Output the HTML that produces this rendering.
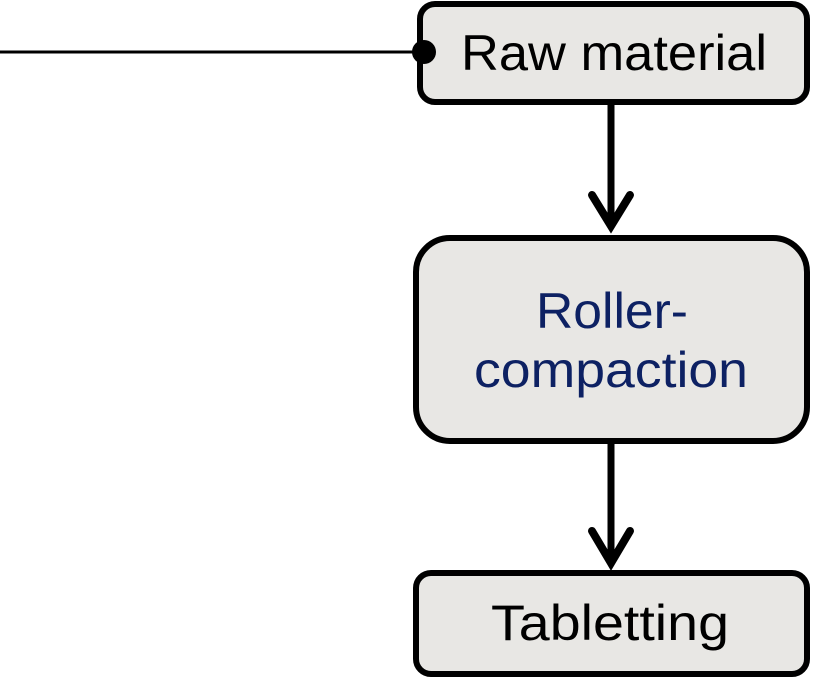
<!DOCTYPE html>
<html><head><meta charset="utf-8"><style>
html,body{margin:0;padding:0;background:#fff;}
svg{display:block;}
text{font-family:"Liberation Sans","DejaVu Sans",sans-serif;font-size:50px;}
</style></head><body>
<svg width="814" height="683" viewBox="0 0 814 683" xmlns="http://www.w3.org/2000/svg">
<line x1="0" y1="52" x2="424" y2="52" stroke="#000" stroke-width="3"/>
<rect x="420" y="4" width="387" height="98" rx="15" fill="#e8e7e4" stroke="#000" stroke-width="6"/>
<circle cx="424" cy="52" r="12" fill="#000"/>
<text x="461" y="70" textLength="306" lengthAdjust="spacingAndGlyphs" fill="#000">Raw material</text>
<line x1="611" y1="104" x2="611" y2="222" stroke="#000" stroke-width="7"/>
<polyline points="592,195 611,226 630,195" fill="none" stroke="#000" stroke-width="8" stroke-linecap="round" stroke-linejoin="miter"/>
<rect x="416" y="238" width="391" height="203" rx="34" fill="#e8e7e4" stroke="#000" stroke-width="6"/>
<text x="536" y="328" textLength="152" lengthAdjust="spacingAndGlyphs" fill="#0d2163">Roller-</text>
<text x="474" y="387" textLength="274" lengthAdjust="spacingAndGlyphs" fill="#0d2163">compaction</text>
<line x1="611" y1="442" x2="611" y2="560" stroke="#000" stroke-width="7"/>
<polyline points="592,531 611,563 630,531" fill="none" stroke="#000" stroke-width="8" stroke-linecap="round" stroke-linejoin="miter"/>
<rect x="416" y="573" width="391" height="101" rx="15" fill="#e8e7e4" stroke="#000" stroke-width="6"/>
<text x="491" y="640" textLength="238" lengthAdjust="spacingAndGlyphs" fill="#000">Tabletting</text>
</svg>
</body></html>
